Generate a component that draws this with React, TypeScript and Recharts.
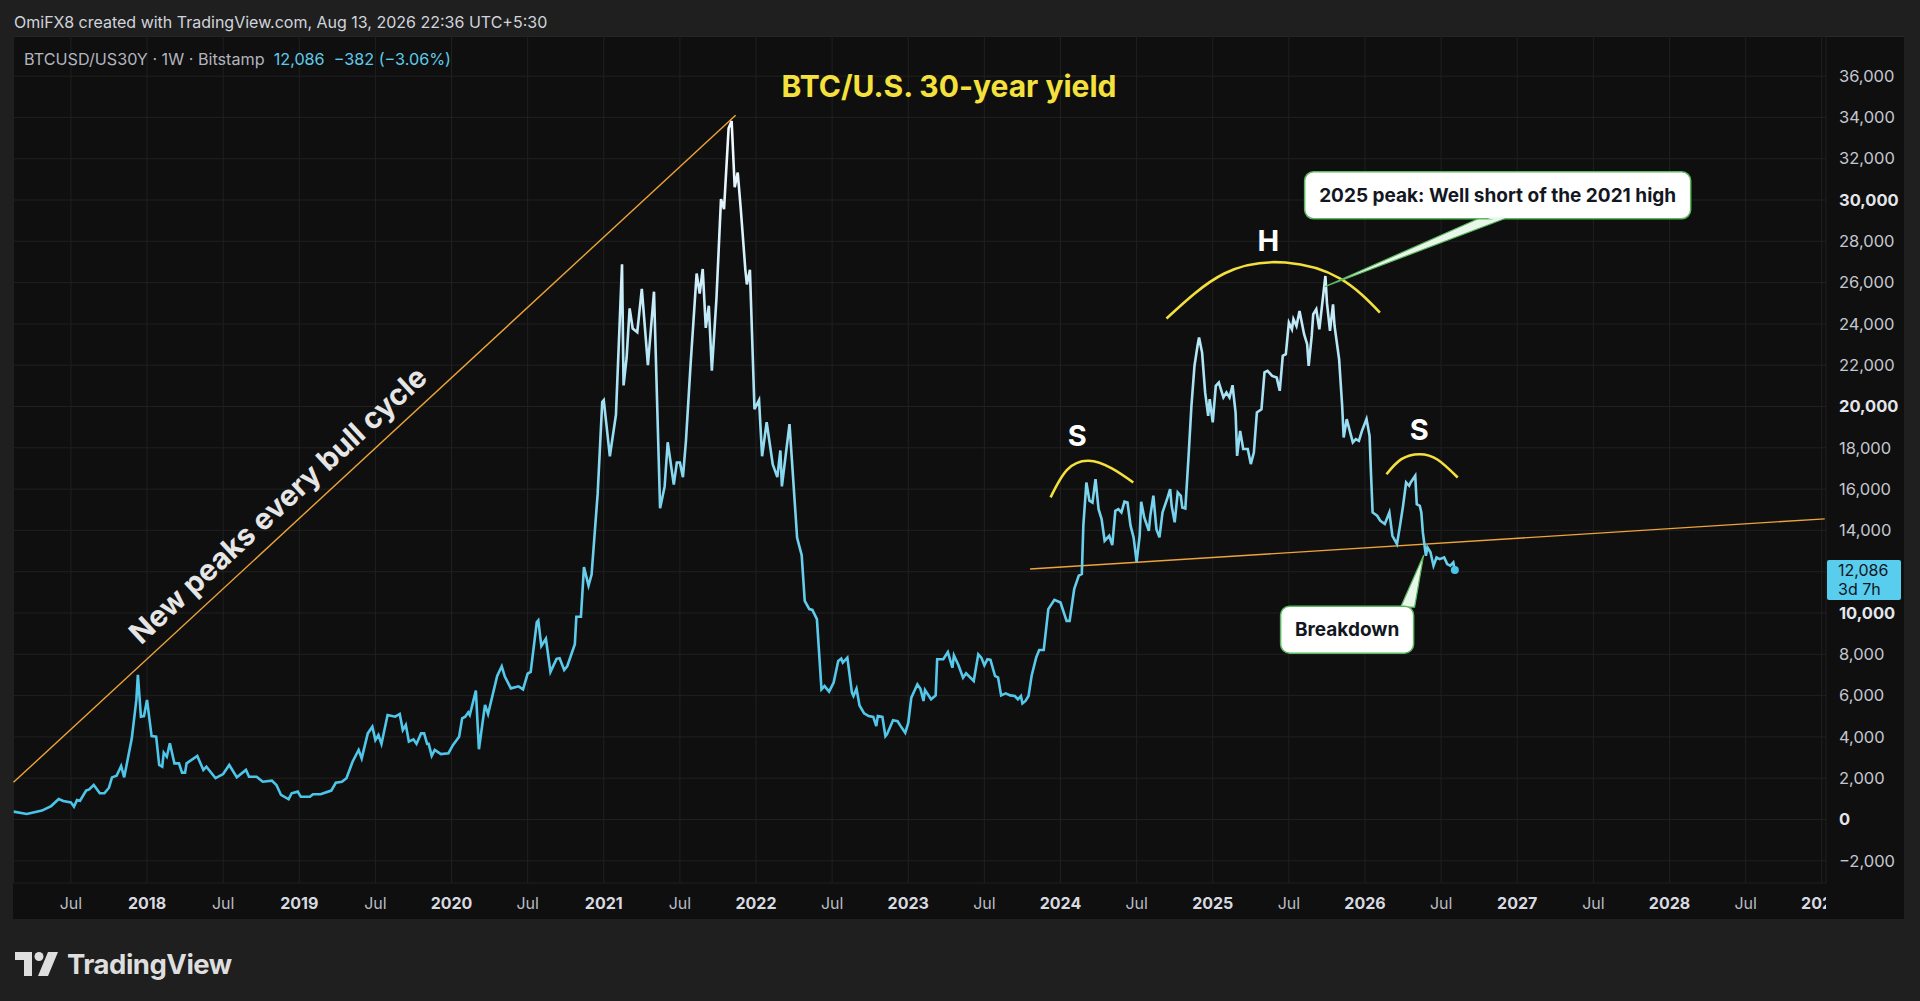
import React from 'react';
import { LineChart, Line, XAxis, YAxis, CartesianGrid, ReferenceLine, ReferenceDot } from 'recharts';

const FONT = 'Inter, "Liberation Sans", Arial, sans-serif';

// ---- BTCUSD / US30Y weekly ratio: [fractional year, value] ----
const era2017to2020: number[][] = [
  [2017.123, 380], [2017.21, 270], [2017.31, 430], [2017.37, 650], [2017.42, 990], [2017.45, 900],
  [2017.5, 830], [2017.52, 620], [2017.54, 940], [2017.56, 910], [2017.6, 1400], [2017.62, 1460],
  [2017.65, 1670], [2017.69, 1270], [2017.72, 1270], [2017.75, 1540], [2017.77, 2040], [2017.8, 2120],
  [2017.83, 2590], [2017.85, 2040], [2017.9, 3930], [2017.93, 5790], [2017.94, 7000], [2017.96, 4980],
  [2017.98, 5010], [2018.0, 5790], [2018.03, 4040], [2018.06, 4010], [2018.08, 2640], [2018.1, 2560],
  [2018.11, 3240], [2018.13, 3040], [2018.15, 3690], [2018.18, 2720], [2018.21, 2720], [2018.23, 2270],
  [2018.25, 2270], [2018.26, 2720], [2018.33, 3080], [2018.37, 2400], [2018.39, 2560], [2018.45, 2000],
  [2018.5, 2200], [2018.54, 2640], [2018.59, 2040], [2018.65, 2400], [2018.67, 2070], [2018.72, 2070],
  [2018.76, 1830], [2018.82, 1880], [2018.85, 1670], [2018.88, 1190], [2018.93, 980], [2018.95, 1270],
  [2018.99, 1350], [2019.01, 1100], [2019.07, 1100], [2019.09, 1220], [2019.14, 1220], [2019.21, 1400],
  [2019.24, 1780], [2019.28, 1830], [2019.31, 2000], [2019.35, 2800], [2019.39, 3370], [2019.41, 2960],
  [2019.45, 4170], [2019.48, 4490], [2019.5, 3850], [2019.52, 4090], [2019.54, 3660], [2019.58, 5060],
  [2019.63, 4980], [2019.66, 5110], [2019.68, 4330], [2019.7, 4580], [2019.72, 3770], [2019.75, 3880],
  [2019.77, 3660], [2019.8, 4170], [2019.82, 4170], [2019.84, 3660], [2019.85, 3660], [2019.87, 3080],
  [2019.89, 3370], [2019.93, 3170], [2019.98, 3210], [2020.01, 3610], [2020.05, 4010], [2020.07, 4900],
  [2020.09, 4980], [2020.11, 5190], [2020.12, 5060], [2020.16, 6240], [2020.18, 3400], [2020.22, 5550],
  [2020.24, 5110], [2020.3, 6950], [2020.33, 7420], [2020.35, 6920], [2020.39, 6350], [2020.44, 6450],
  [2020.47, 6300],
];

const era2020to2022: number[][] = [
  [2020.5, 7060], [2020.52, 7150], [2020.56, 9550], [2020.57, 9640], [2020.59, 8400], [2020.62, 8750],
  [2020.65, 7150], [2020.69, 7780], [2020.71, 7810], [2020.74, 7240], [2020.76, 7420], [2020.81, 8490],
  [2020.82, 9820], [2020.85, 9820], [2020.87, 12220], [2020.9, 11330], [2020.92, 11860], [2020.96, 15780],
  [2020.99, 20220], [2021.0, 20310], [2021.04, 17590], [2021.08, 19600], [2021.12, 26890], [2021.13, 21020],
  [2021.15, 22350], [2021.17, 24750], [2021.19, 23780], [2021.22, 23600], [2021.25, 25700], [2021.29, 22000],
  [2021.33, 25560], [2021.37, 15070], [2021.4, 16130], [2021.42, 18270], [2021.46, 16220], [2021.48, 17290],
  [2021.5, 17290], [2021.52, 16580], [2021.54, 18350], [2021.57, 22000], [2021.61, 26440], [2021.63, 25470],
  [2021.65, 26660], [2021.67, 23810], [2021.69, 24880], [2021.71, 21730], [2021.74, 25200], [2021.77, 30040],
  [2021.79, 29560], [2021.82, 33470], [2021.84, 33820], [2021.86, 30620], [2021.88, 31330], [2021.9, 29560],
  [2021.93, 26620], [2021.94, 25910], [2021.96, 26620], [2021.99, 19870], [2022.02, 20310], [2022.04, 17590],
  [2022.07, 19240], [2022.11, 17200], [2022.14, 16580], [2022.16, 17870], [2022.17, 16130], [2022.22, 19150],
  [2022.27, 13640], [2022.3, 12800],
];

const era2022to2024: number[][] = [
  [2022.32, 10590], [2022.35, 10190], [2022.37, 10150], [2022.4, 9700], [2022.43, 6300], [2022.45, 6460],
  [2022.48, 6190], [2022.51, 6630], [2022.54, 7680], [2022.56, 7790], [2022.57, 7600], [2022.6, 7840],
  [2022.63, 6140], [2022.64, 5980], [2022.66, 6330], [2022.68, 5520], [2022.71, 5140], [2022.74, 5010],
  [2022.77, 4970], [2022.79, 4520], [2022.8, 5010], [2022.83, 4970], [2022.85, 4030], [2022.86, 4120],
  [2022.9, 4810], [2022.93, 4760], [2022.95, 4520], [2022.98, 4200], [2023.0, 4680], [2023.02, 5900],
  [2023.04, 6220], [2023.06, 6540], [2023.08, 6330], [2023.1, 5740], [2023.11, 6270], [2023.15, 5820],
  [2023.18, 6010], [2023.19, 7760], [2023.23, 7760], [2023.26, 8110], [2023.29, 7350], [2023.3, 7950],
  [2023.33, 7470], [2023.36, 6870], [2023.38, 7080], [2023.43, 6710], [2023.46, 8000], [2023.48, 7840],
  [2023.5, 7470], [2023.52, 7760], [2023.54, 7730], [2023.57, 6950], [2023.59, 6870], [2023.61, 6010],
  [2023.64, 6110], [2023.67, 6010], [2023.7, 5980], [2023.72, 5820], [2023.74, 5980], [2023.75, 5620],
  [2023.77, 5740], [2023.79, 5980], [2023.81, 6950], [2023.84, 7840], [2023.86, 8210], [2023.89, 8210],
  [2023.92, 10190], [2023.96, 10640], [2024.0, 10510], [2024.04, 9620], [2024.06, 9620], [2024.09, 11160],
  [2024.12, 11810], [2024.14, 11890],
];

const era2024to2026: number[][] = [
  [2024.15, 14230], [2024.17, 16320], [2024.19, 15440], [2024.21, 15350], [2024.23, 16480], [2024.25, 15030],
  [2024.27, 14550], [2024.29, 13500], [2024.32, 13740], [2024.34, 13290], [2024.36, 14950], [2024.38, 15030],
  [2024.4, 14870], [2024.42, 15390], [2024.44, 15350], [2024.46, 14230], [2024.48, 13660], [2024.5, 12480],
  [2024.52, 13740], [2024.53, 15390], [2024.55, 14630], [2024.58, 13980], [2024.59, 14710], [2024.61, 15680],
  [2024.63, 14060], [2024.65, 13660], [2024.67, 14870], [2024.7, 15520], [2024.72, 16000], [2024.73, 15190],
  [2024.75, 14390], [2024.77, 15840], [2024.79, 15680], [2024.8, 15110], [2024.82, 15060], [2024.84, 17450],
  [2024.86, 20030], [2024.88, 21970], [2024.9, 22940], [2024.91, 23340], [2024.93, 22610], [2024.95, 20680],
  [2024.97, 19550], [2024.98, 20360], [2025.0, 19230], [2025.02, 21000], [2025.04, 21160], [2025.07, 20440],
  [2025.09, 20680], [2025.11, 20440], [2025.13, 21030], [2025.15, 19710], [2025.16, 17610], [2025.18, 18820],
  [2025.2, 17940], [2025.23, 17940], [2025.25, 17210], [2025.27, 17770], [2025.29, 19710], [2025.32, 19870],
  [2025.34, 21650], [2025.36, 21730], [2025.39, 21480], [2025.42, 21400], [2025.44, 20760], [2025.46, 22450],
  [2025.48, 22530], [2025.5, 24060], [2025.52, 23740], [2025.53, 24230], [2025.55, 23900], [2025.57, 24630],
  [2025.6, 23500], [2025.62, 23020], [2025.63, 21970], [2025.65, 23420], [2025.66, 24470], [2025.68, 24710],
  [2025.7, 23740], [2025.72, 25030], [2025.74, 26320], [2025.75, 25030], [2025.77, 23660], [2025.79, 24950],
  [2025.8, 23900], [2025.83, 22290], [2025.85, 20030], [2025.86, 18500], [2025.88, 19390], [2025.9, 18820],
  [2025.92, 18260], [2025.94, 18420], [2025.96, 18340], [2025.98, 18820], [2026.01, 19390], [2026.03, 18580],
  [2026.04, 16650], [2026.05, 14870], [2026.08, 14710], [2026.1, 14470], [2026.13, 14310], [2026.16, 14870],
  [2026.18, 13740], [2026.21, 13340], [2026.23, 14230], [2026.25, 15190], [2026.27, 16320], [2026.29, 16160],
  [2026.3, 16320], [2026.33, 16650], [2026.34, 15270], [2026.36, 15190], [2026.37, 14870], [2026.38, 13900],
  [2026.4, 12770], [2026.41, 13180], [2026.43, 12940], [2026.45, 12290], [2026.47, 12690], [2026.49, 12610],
  [2026.52, 12690], [2026.54, 12370], [2026.56, 12290], [2026.58, 12450], [2026.59, 12086],
];

// ---- Annotations (data coordinates) ----
const bullTrendline: number[][] = [[2017.123, 1800], [2021.866, 34100]];
const neckline: number[][] = [[2023.8, 12130], [2029.02, 14560]];
const leftShoulderArc: number[][] = [[2023.935, 15600], [2024.043, 16930], [2024.185, 17370], [2024.337, 17000], [2024.478, 16320]];
const headArc: number[][] = [[2024.696, 24260], [2025.076, 26440], [2025.478, 26970], [2025.837, 26190], [2026.098, 24550]];
const rightShoulderArc: number[][] = [[2026.141, 16720], [2026.239, 17450], [2026.359, 17690], [2026.478, 17420], [2026.609, 16560]];
const patternLabels: { t: number; v: number; text: string }[] = [
  { t: 2024.11, v: 18580, text: 'S' },
  { t: 2025.365, v: 28010, text: 'H' },
  { t: 2026.357, v: 18880, text: 'S' },
];
const trendText = { t: 2018.86, v: 15230, text: 'New peaks every bull cycle' };
const peakCallout = { t: 2025.735, v: 25800, text: '2025 peak: Well short of the 2021 high' };
const breakdownCallout = { t: 2026.385, v: 12800, text: 'Breakdown' };

// ---- Axes ----
const xDomain = [2017.123, 2029.028];
const yDomain = [-3075, 37942];
const xTicks = [2017.5, 2018, 2018.5, 2019, 2019.5, 2020, 2020.5, 2021, 2021.5, 2022, 2022.5, 2023, 2023.5,
  2024, 2024.5, 2025, 2025.5, 2026, 2026.5, 2027, 2027.5, 2028, 2028.5, 2029];
const yTicks = [-2000, 0, 2000, 4000, 6000, 8000, 10000, 12000, 14000, 16000, 18000, 20000, 22000, 24000,
  26000, 28000, 30000, 32000, 34000, 36000];
const boldYTicks = [0, 10000, 20000, 30000];

// ---- Texts ----
const headerText = 'OmiFX8 created with TradingView.com, Aug 13, 2026 22:36 UTC+5:30';
const symbolText = 'BTCUSD/US30Y · 1W · Bitstamp';
const changeText = '−382 (−3.06%)';
const titleText = 'BTC/U.S. 30-year yield';
const countdownText = '3d 7h';

const toRows = (pairs: number[][]) => pairs.map(([t, v]) => ({ t, v }));
const priceRows = toRows([...era2017to2020, ...era2020to2022, ...era2022to2024, ...era2024to2026]);
const lastRow = priceRows[priceRows.length - 1];

const fmt = (v: number) => (v < 0 ? '−' : '') + Math.abs(v).toLocaleString('en-US');

const XTick = (props: any) => {
  const { x, y, payload } = props;
  const v = payload.value as number;
  const isYear = Number.isInteger(v);
  return (
    <text x={x} y={y + 20} dy="0.35em" textAnchor="middle" clipPath="url(#xLabelClip)"
      fill={isYear ? '#d8dae0' : '#b8bbc3'} fontSize={16} fontWeight={isYear ? 700 : 400} fontFamily={FONT}>
      {isYear ? String(v) : 'Jul'}
    </text>
  );
};

const YTick = (props: any) => {
  const { x, y, payload } = props;
  const v = payload.value as number;
  if (Math.abs(v - lastRow.v) < 1000) return null;
  const bold = boldYTicks.includes(v);
  return (
    <text x={x} y={y} dy="0.35em" textAnchor="start" fill={bold ? '#e4e6eb' : '#c4c7cf'}
      fontSize={16.5} fontWeight={bold ? 700 : 400} fontFamily={FONT}>
      {fmt(v)}
    </text>
  );
};

const PriceTag = (props: any) => {
  const vb = props.viewBox || {};
  const x = (vb.x ?? 0) + (vb.width ?? 0) + 1;
  const y = vb.y ?? 0;
  return (
    <g>
      <rect x={x} y={y - 10} width={74} height={40} rx={2} fill="#58cdee" />
      <text x={x + 11} y={y} dy="0.35em" fontSize={16} fontFamily={FONT} fill="#10161e">{fmt(lastRow.v)}</text>
      <text x={x + 11} y={y + 19} dy="0.35em" fontSize={16} fontFamily={FONT} fill="#10161e">{countdownText}</text>
    </g>
  );
};

const PatternLetter = (text: string) => (p: any) => (
  <text x={p.cx} y={p.cy} dy="0.35em" textAnchor="middle" fill="#ffffff" fontSize={29} fontWeight={700} fontFamily={FONT}>
    {text}
  </text>
);

const TrendTextShape = (p: any) => (
  <text x={p.cx} y={p.cy} dy="0.35em" textAnchor="middle" fill="#e6e6e6" fontSize={29.5} fontWeight={700}
    fontFamily={FONT} transform={`rotate(-42.7 ${p.cx} ${p.cy})`}>
    {trendText.text}
  </text>
);

const PeakCalloutShape = (p: any) => {
  const { cx, cy } = p;
  return (
    <g>
      <polygon points={`${cx},${cy} ${cx + 158},${cy - 70} ${cx + 185},${cy - 70}`} fill="#e9f6ea" stroke="#5cb860" strokeWidth={1.2} />
      <rect x={cx - 20} y={cy - 115} width={386} height={47} rx={9} fill="#ffffff" stroke="#5cb860" strokeWidth={1.5} />
      <polygon points={`${cx + 160},${cy - 69.5} ${cx + 183},${cy - 69.5} ${cx + 172},${cy - 66}`} fill="#e9f6ea" />
      <text x={cx + 173} y={cy - 91.5} dy="0.35em" textAnchor="middle" fill="#131722" fontSize={19} fontWeight={700} fontFamily={FONT}>
        {peakCallout.text}
      </text>
    </g>
  );
};

const BreakdownCalloutShape = (p: any) => {
  const { cx, cy } = p;
  return (
    <g>
      <polygon points={`${cx},${cy} ${cx - 23},${cy + 52} ${cx - 9},${cy + 52}`} fill="#e9f6ea" stroke="#5cb860" strokeWidth={1.2} />
      <rect x={cx - 143} y={cy + 51} width={133} height={47} rx={9} fill="#ffffff" stroke="#5cb860" strokeWidth={1.5} />
      <text x={cx - 76.5} y={cy + 74.5} dy="0.35em" textAnchor="middle" fill="#131722" fontSize={19} fontWeight={700} fontFamily={FONT}>
        {breakdownCallout.text}
      </text>
    </g>
  );
};

const TVLogo = () => (
  <svg width={44} height={24} viewBox="0 0 44 24" style={{ display: 'block' }}>
    <path d="M0 0 H17 V24 H9 V8 H0 Z" fill="#dedede" />
    <circle cx={24} cy={4.5} r={4.5} fill="#dedede" />
    <path d="M33 0 H43 L33 24 H23 Z" fill="#dedede" />
  </svg>
);

export default function App() {
  return (
    <div style={{ position: 'relative', width: 1920, height: 1001, background: '#1f1f1f', overflow: 'hidden', fontFamily: FONT }}>
      <style>{'body{margin:0;background:#1f1f1f;}'}</style>
      <svg width={0} height={0} style={{ position: 'absolute' }}>
        <defs>
          <linearGradient id="btcGrad" x1="0" y1="0" x2="0" y2="1">
            <stop offset="0" stopColor="#f4fbfe" />
            <stop offset="0.23" stopColor="#d0effa" />
            <stop offset="0.41" stopColor="#a2e0f3" />
            <stop offset="0.59" stopColor="#6fd0ec" />
            <stop offset="0.8" stopColor="#55c8ea" />
            <stop offset="1" stopColor="#4ac4e8" />
          </linearGradient>
          <clipPath id="xLabelClip" clipPathUnits="userSpaceOnUse">
            <rect x={0} y={0} width={1826} height={1001} />
          </clipPath>
        </defs>
      </svg>

      <div style={{ position: 'absolute', left: 14, top: 11, height: 22, lineHeight: '22px', fontSize: 16, color: '#d1d4dc', whiteSpace: 'nowrap' }}>
        {headerText}
      </div>

      <div style={{ position: 'absolute', left: 13, top: 36, width: 1891, height: 883, background: '#0f0f0f', borderTop: '1px solid #2a2a2a', boxSizing: 'border-box' }} />

      <div style={{ position: 'absolute', left: 0, top: 0 }}>
        <LineChart width={1920} height={1001} margin={{ top: 36, right: 14, bottom: 82, left: 13.5 }}>
          <CartesianGrid stroke="#202020" strokeWidth={1} />
          <XAxis dataKey="t" type="number" domain={xDomain} allowDataOverflow ticks={xTicks} interval={0}
            axisLine={false} tickLine={false} tickSize={0} tickMargin={0} height={36} tick={(p: any) => <XTick {...p} />} />
          <YAxis orientation="right" type="number" domain={yDomain} allowDataOverflow ticks={yTicks} interval={0}
            axisLine={false} tickLine={false} tickSize={0} tickMargin={13} width={80} tick={(p: any) => <YTick {...p} />} />

          <ReferenceLine ifOverflow="visible" stroke="#eda43a" strokeWidth={1.4}
            segment={[{ x: bullTrendline[0][0], y: bullTrendline[0][1] }, { x: bullTrendline[1][0], y: bullTrendline[1][1] }]} />
          <ReferenceLine ifOverflow="visible" stroke="#eda43a" strokeWidth={1.4}
            segment={[{ x: neckline[0][0], y: neckline[0][1] }, { x: neckline[1][0], y: neckline[1][1] }]} />

          <Line data={priceRows} dataKey="v" type="linear" stroke="url(#btcGrad)" strokeWidth={2.6}
            dot={false} activeDot={false} isAnimationActive={false} />

          <Line data={toRows(leftShoulderArc)} dataKey="v" type="natural" stroke="#f3e03c" strokeWidth={2.6} dot={false} activeDot={false} isAnimationActive={false} />
          <Line data={toRows(headArc)} dataKey="v" type="natural" stroke="#f3e03c" strokeWidth={2.6} dot={false} activeDot={false} isAnimationActive={false} />
          <Line data={toRows(rightShoulderArc)} dataKey="v" type="natural" stroke="#f3e03c" strokeWidth={2.6} dot={false} activeDot={false} isAnimationActive={false} />

          <ReferenceDot x={lastRow.t} y={lastRow.v} r={4} fill="#4ac4e8" stroke="none" ifOverflow="visible" />

          {patternLabels.map((l, i) => (
            <ReferenceDot key={i} x={l.t} y={l.v} r={0} ifOverflow="visible" shape={PatternLetter(l.text)} />
          ))}
          <ReferenceDot x={trendText.t} y={trendText.v} r={0} ifOverflow="visible" shape={TrendTextShape} />
          <ReferenceDot x={peakCallout.t} y={peakCallout.v} r={0} ifOverflow="visible" shape={PeakCalloutShape} />
          <ReferenceDot x={breakdownCallout.t} y={breakdownCallout.v} r={0} ifOverflow="visible" shape={BreakdownCalloutShape} />

          <ReferenceLine y={lastRow.v} stroke="none" ifOverflow="visible" label={<PriceTag />} />
        </LineChart>
      </div>

      <div style={{ position: 'absolute', left: 24, top: 48, height: 22, lineHeight: '22px', fontSize: 16.2, whiteSpace: 'nowrap' }}>
        <span style={{ color: '#b2b5be' }}>{symbolText}</span>
        <span style={{ color: '#5fcbea', marginLeft: 9 }}>{fmt(lastRow.v)}</span>
        <span style={{ color: '#5fcbea', marginLeft: 9 }}>{changeText}</span>
      </div>

      <div style={{ position: 'absolute', left: 949, top: 67, transform: 'translateX(-50%)', height: 38, lineHeight: '38px', fontSize: 30, fontWeight: 700, color: '#f5e13c', whiteSpace: 'nowrap' }}>
        {titleText}
      </div>

      <div style={{ position: 'absolute', left: 15, top: 949, display: 'flex', alignItems: 'center', gap: 8 }}>
        <TVLogo />
        <span style={{ fontSize: 27.5, fontWeight: 700, color: '#dedede', letterSpacing: -0.5, lineHeight: '30px' }}>TradingView</span>
      </div>
    </div>
  );
}
